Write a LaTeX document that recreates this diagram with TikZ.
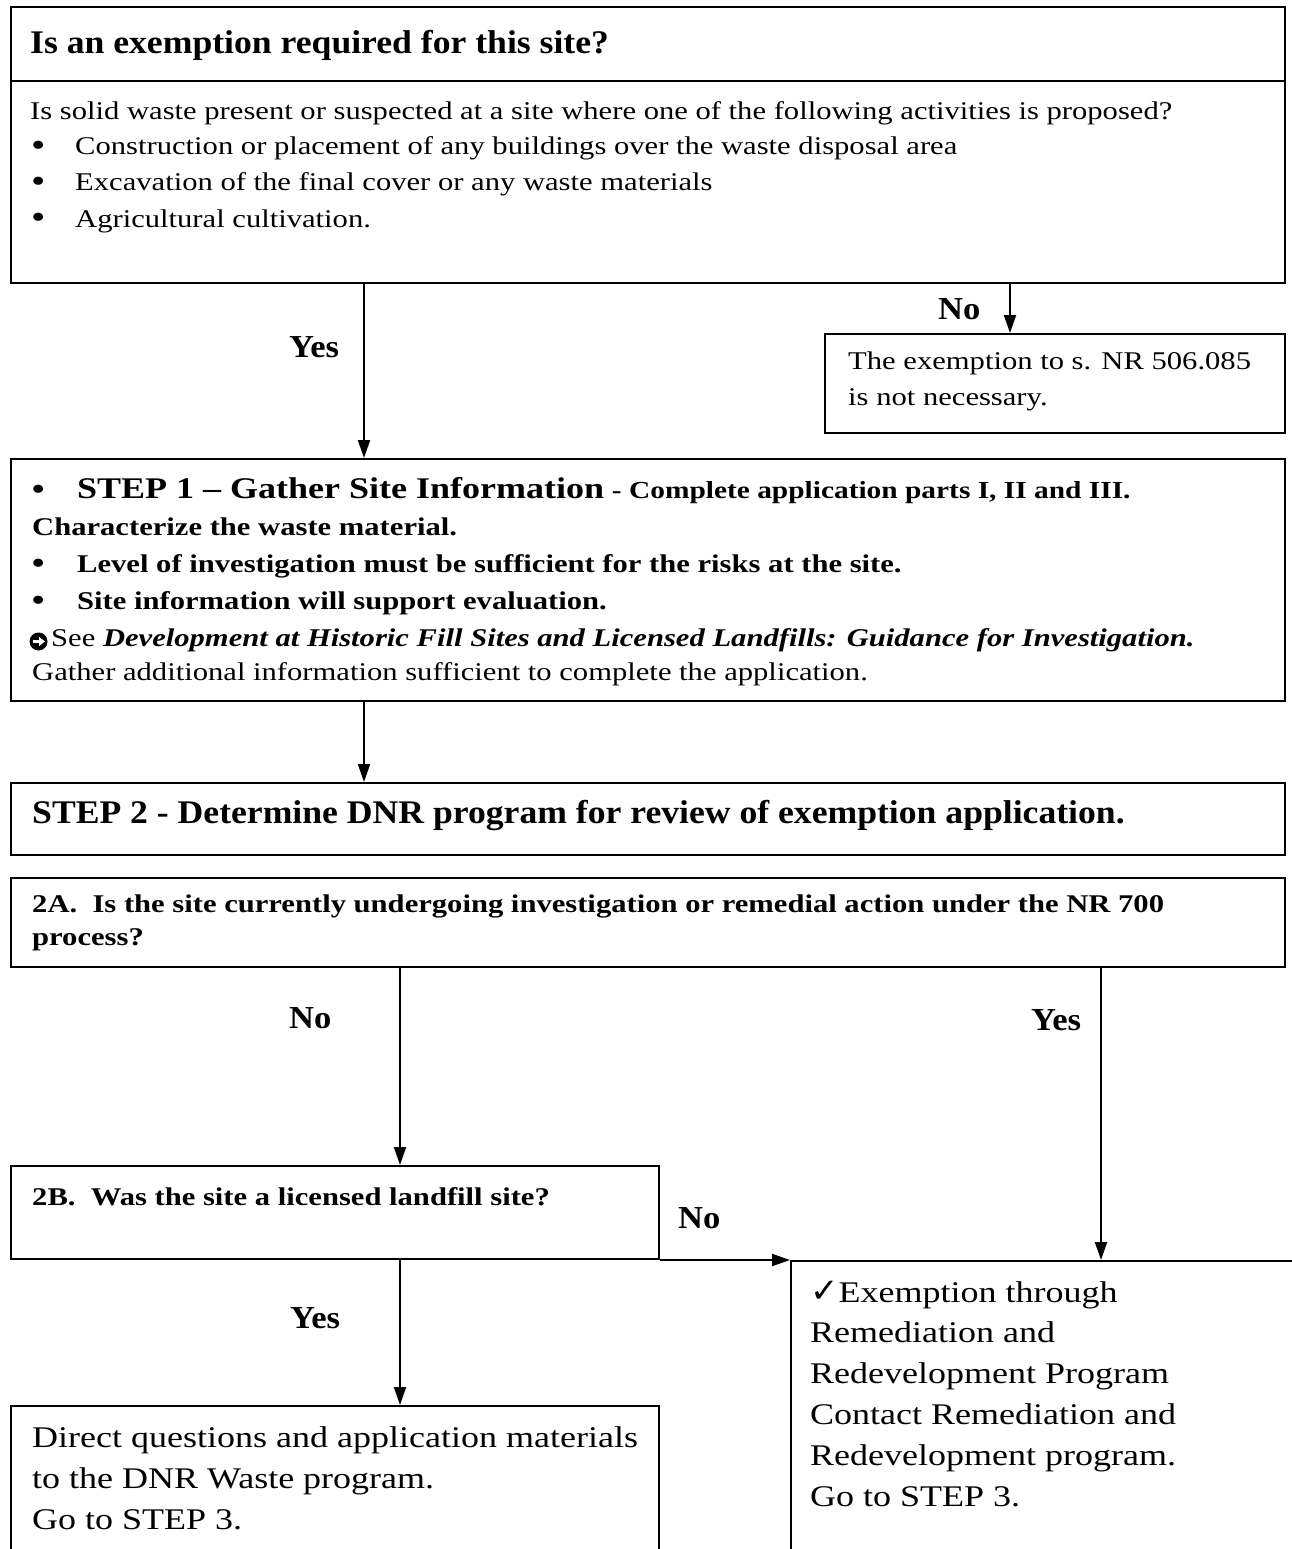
\documentclass[tikz,border=0pt]{standalone}
\usepackage{fontspec}
\setmainfont{Liberation Serif}[FakeStretch=1.2]
\newfontfamily\headfont{Liberation Serif}[FakeStretch=1.08]
\newfontfamily\symfont{DejaVu Sans}
\usetikzlibrary{arrows.meta}
\tikzset{
  box/.style={draw, line width=2pt, inner sep=0pt, anchor=north west},
  txt/.style={inner sep=0pt, anchor=base west, font=\fontsize{25.5}{30}\selectfont},
  txtb/.style={txt, font=\fontsize{25.5}{30}\selectfont\bfseries},
  bul/.style={inner sep=0pt, anchor=base west, font=\fontsize{34}{36}\selectfont},
  big/.style={inner sep=0pt, anchor=base west, font=\fontsize{30}{36}\selectfont},
  bigb/.style={big, font=\fontsize{30}{36}\selectfont\bfseries},
  head/.style={inner sep=0pt, anchor=base west, font=\headfont\fontsize{33}{38}\selectfont\bfseries},
  lbl/.style={inner sep=0pt, anchor=base west, font=\headfont\fontsize{32}{36}\selectfont\bfseries},
  arr/.style={line width=2pt, -{Triangle[length=18pt,width=12pt]}},
}
\begin{document}
\begin{tikzpicture}[x=1pt,y=-1pt]
\useasboundingbox (0,0) rectangle (1292,1549);
% boxes
\node[box, minimum width=1274pt, minimum height=74pt]  (qt) at (10,6) {};
\node[box, minimum width=1274pt, minimum height=202pt] (qb) at (10,80) {};
\node[box, minimum width=460pt,  minimum height=99pt]  (ex) at (824,333) {};
\node[box, minimum width=1274pt, minimum height=242pt] (s1) at (10,458) {};
\node[box, minimum width=1274pt, minimum height=72pt]  (s2) at (10,782) {};
\node[box, minimum width=1274pt, minimum height=89pt]  (a2) at (10,877) {};
\node[box, minimum width=648pt,  minimum height=93pt]  (b2) at (10,1165) {};
\node[box, minimum width=520pt,  minimum height=320pt] (rb) at (790,1260) {};
\node[box, minimum width=648pt,  minimum height=170pt] (bl) at (10,1405) {};
% texts
\node[head] (t0) at (30,54) {Is an exemption required for this site?};
\node[txt] (t1) at (30,120) {Is solid waste present or suspected at a site where one of the following activities is proposed?};
\node[bul] (b1) at (31,157) {•};
\node[txt] (t2) at (75,155) {Construction or placement of any buildings over the waste disposal area};
\node[bul] (b2a) at (31,193) {•};
\node[txt] (t3) at (75,191) {Excavation of the final cover or any waste materials};
\node[bul] (b3) at (31,229) {•};
\node[txt] (t4) at (75,227) {Agricultural cultivation.};
\node[txt] (e1) at (848,369) {The exemption to s. NR 506.085};
\node[txt] (e2) at (848,405) {is not necessary.};
\node[bul] (sb0) at (31,500) {•};
\node[bigb] (s1a) at (77,498) {STEP 1 – Gather Site Information};
\node[inner sep=0pt, anchor=base west, font=\fontsize{24.5}{30}\selectfont\bfseries] (s1b) at (s1a.base east) {\ - Complete application parts I, II and III.};
\node[txtb] (s1c) at (32,535) {Characterize the waste material.};
\node[bul] (sb1) at (31,574) {•};
\node[txtb] (s1d) at (77,572) {Level of investigation must be sufficient for the risks at the site.};
\node[bul] (sb2) at (31,611) {•};
\node[txtb] (s1e) at (77,609) {Site information will support evaluation.};
\node[circle, fill=black, minimum size=18pt, inner sep=0pt, anchor=south west] (seesym) at (32,648) {};
\draw[white, line width=2.6pt, -{Triangle[length=6pt,width=9pt]}] ([xshift=-6pt]seesym.center) -- ([xshift=6.5pt]seesym.center);
\node[txt] (s1f) at (51,646) {See \textbf{\textit{Development at Historic Fill Sites and Licensed Landfills: Guidance for Investigation.}}};
\node[txt] (s1g) at (32,680) {Gather additional information sufficient to complete the application.};
\node[head] (s2t) at (32,823) {STEP 2 - Determine DNR program for review of exemption application.};
\node[txtb] (a2t) at (32,912) {2A.\ \ Is the site currently undergoing investigation or remedial action under the NR 700};
\node[txtb] (a2u) at (32,945) {process?};
\node[txtb] (b2t) at (32,1205) {2B.\ \ Was the site a licensed landfill site?};
\node[big] (r1) at (810,1302) {{\symfont\fontsize{34}{36}\selectfont ✓}Exemption through};
\node[big] (r2) at (810,1342) {Remediation and};
\node[big] (r3) at (810,1383) {Redevelopment Program};
\node[big] (r4) at (810,1424) {Contact Remediation and};
\node[big] (r5) at (810,1465) {Redevelopment program.};
\node[big] (r6) at (810,1506) {Go to STEP 3.};
\node[big] (l1) at (32,1447) {Direct questions and application materials};
\node[big] (l2) at (32,1488) {to the DNR Waste program.};
\node[big] (l3) at (32,1529) {Go to STEP 3.};
% labels
\node[lbl] (y1) at (289,357) {Yes};
\node[lbl] (n1) at (938,319) {No};
\node[lbl] (n2) at (289,1028) {No};
\node[lbl] (y2) at (1031,1030) {Yes};
\node[lbl] (n3) at (678,1228) {No};
\node[lbl] (y3) at (290,1328) {Yes};
% connector x positions
\coordinate (c1) at (364,0);
\coordinate (c2) at (1010,0);
\coordinate (c3) at (400,0);
\coordinate (c4) at (1101,0);
% connectors
\draw[arr] (qb.south -| c1) -- (s1.north -| c1);
\draw[arr] (qb.south -| c2) -- (ex.north -| c2);
\draw[arr] (s1.south -| c1) -- (s2.north -| c1);
\draw[arr] (a2.south -| c3) -- (b2.north -| c3);
\draw[arr] (a2.south -| c4) -- (rb.north -| c4);
\draw[arr] (b2.south east) -- (b2.south east -| rb.north west);
\draw[arr] (b2.south -| c3) -- (bl.north -| c3);
\end{tikzpicture}
\end{document}
